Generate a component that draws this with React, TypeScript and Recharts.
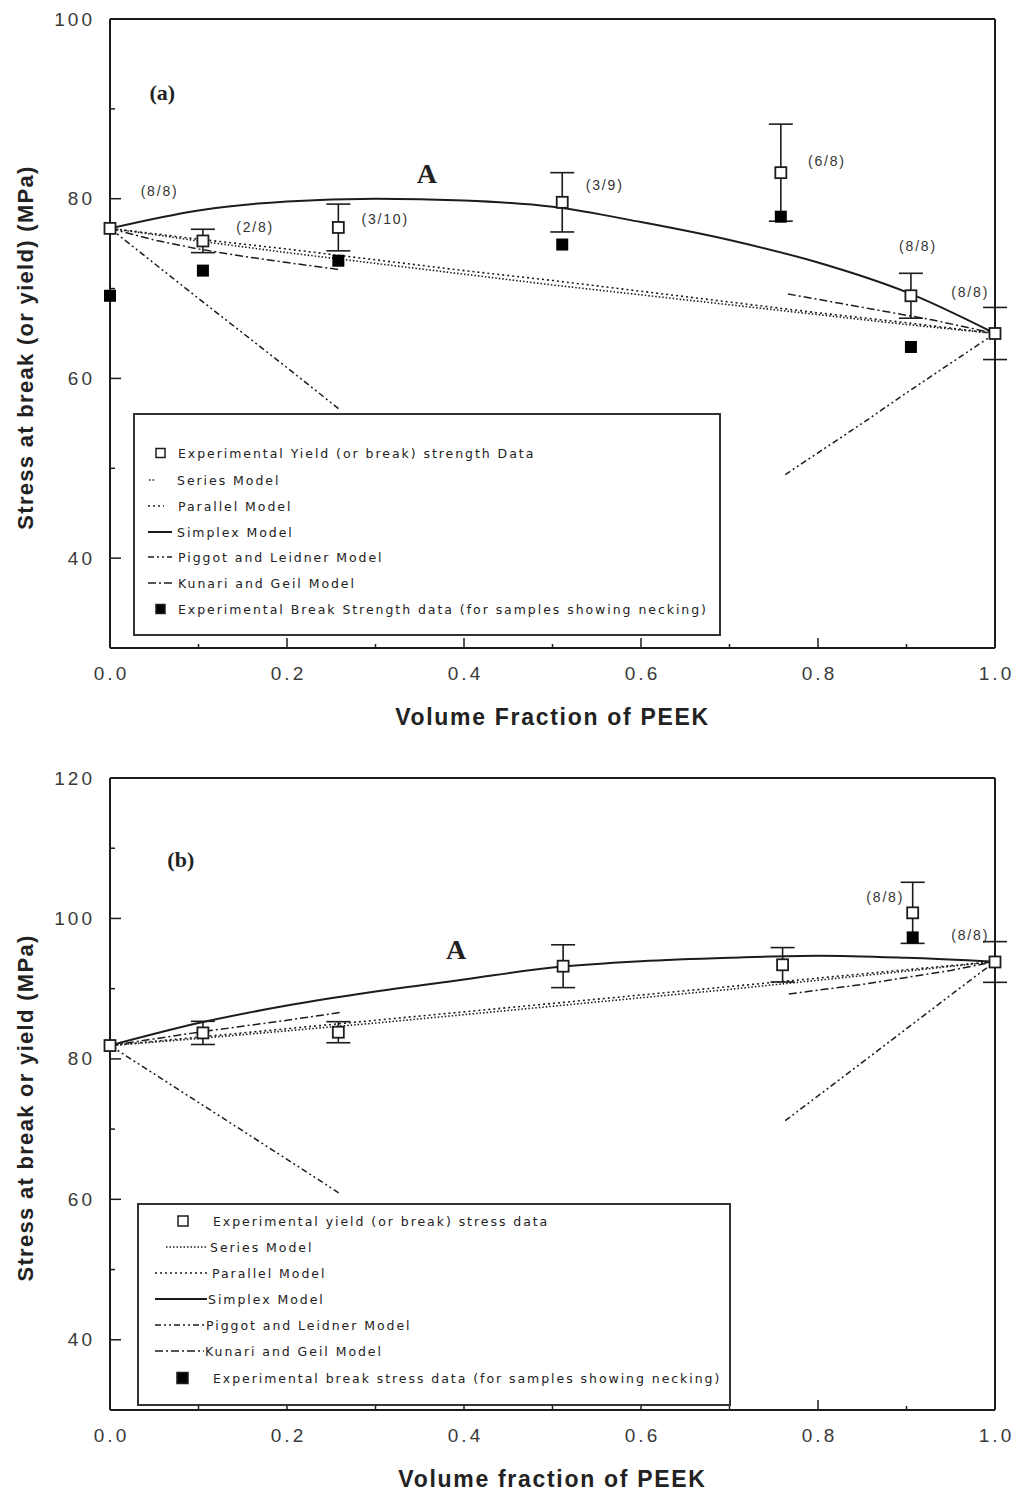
import React from 'react';
import { ComposedChart, Line, Scatter, ErrorBar, XAxis, YAxis, ReferenceDot } from 'recharts';

const INK = '#1c1c1c';
const SANS = '"Liberation Sans", Arial, sans-serif';
const SERIF = '"Liberation Serif", "Times New Roman", serif';
const LEGEND_FONT = '"DejaVu Sans", sans-serif';

type Pt = { x: number; y: number | null };

// x grid used for the model curves
const fractions = [0, 0.1, 0.2, 0.3, 0.4, 0.5, 0.6, 0.7, 0.8, 0.9, 1.0];
const xTicks = [0, 0.1, 0.2, 0.3, 0.4, 0.5, 0.6, 0.7, 0.8, 0.9, 1.0];

// ---- panel (a): stress at break (or yield)
const seriesA = [76.7, 75.3, 74.0, 72.8, 71.6, 70.4, 69.3, 68.2, 67.1, 66.0, 65.0];
const parallelA = [76.7, 75.5, 74.4, 73.2, 72.0, 70.9, 69.7, 68.5, 67.3, 66.2, 65.0];
const simplexA = [76.7, 78.7, 79.7, 80.0, 79.8, 79.1, 77.4, 75.4, 72.9, 69.6, 65.0];
const piggotAx1 = [0, 0.1, 0.2, 0.26];
const piggotAy1 = [76.7, 68.9, 61.2, 56.5];
const piggotAx2 = [0.763, 0.85, 0.9, 0.95, 1.0];
const piggotAy2 = [49.3, 55.0, 58.4, 61.7, 65.0];
const kunoriAx1 = [0, 0.05, 0.1, 0.15, 0.2, 0.26];
const kunoriAy1 = [76.7, 75.4, 74.4, 73.6, 72.9, 72.1];
const kunoriAx2 = [0.766, 0.8, 0.862, 0.93, 1.0];
const kunoriAy2 = [69.4, 68.8, 67.7, 66.5, 65.0];

const yieldAx = [0, 0.105, 0.258, 0.511, 0.758, 0.905, 1.0];
const yieldAy = [76.7, 75.3, 76.8, 79.6, 82.9, 69.2, 65.0];
const yieldAerr = [0, 1.3, 2.6, 3.3, 5.4, 2.5, 2.9];
const breakAx = [0, 0.105, 0.258, 0.511, 0.758, 0.905];
const breakAy = [69.2, 72.0, 73.1, 74.9, 78.0, 63.5];

const notesA = [
  { x: 0.056, y: 80.9, text: '(8/8)' },
  { x: 0.164, y: 76.8, text: '(2/8)' },
  { x: 0.311, y: 77.7, text: '(3/10)' },
  { x: 0.559, y: 81.5, text: '(3/9)' },
  { x: 0.81, y: 84.2, text: '(6/8)' },
  { x: 0.913, y: 74.7, text: '(8/8)' },
  { x: 0.972, y: 69.6, text: '(8/8)' },
];

// ---- panel (b): stress at break or yield
const seriesB = [81.9, 82.9, 84.0, 85.1, 86.3, 87.5, 88.7, 89.9, 91.2, 92.5, 93.85];
const parallelB = [81.9, 83.1, 84.3, 85.5, 86.7, 87.9, 89.1, 90.3, 91.5, 92.7, 93.85];
const simplexB = [81.9, 85.1, 87.6, 89.6, 91.3, 93.0, 93.9, 94.4, 94.7, 94.4, 93.85];
const piggotBx1 = [0, 0.1, 0.2, 0.26];
const piggotBy1 = [81.9, 73.8, 65.7, 60.8];
const piggotBx2 = [0.763, 0.85, 0.9, 0.95, 1.0];
const piggotBy2 = [71.2, 79.5, 84.3, 89.1, 93.85];
const kunoriBx1 = [0, 0.1, 0.2, 0.26];
const kunoriBy1 = [81.9, 83.8, 85.5, 86.6];
const kunoriBx2 = [0.767, 0.85, 0.9, 0.95, 1.0];
const kunoriBy2 = [89.25, 90.6, 91.6, 92.6, 93.85];

const yieldBx = [0, 0.105, 0.258, 0.512, 0.76, 0.907, 1.0];
const yieldBy = [81.9, 83.7, 83.8, 93.2, 93.4, 100.8, 93.8];
const yieldBerr = [0, 1.65, 1.5, 3.05, 2.45, 4.35, 2.9];
const breakBx = [0.907];
const breakBy = [97.3];

const notesB = [
  { x: 0.876, y: 103.0, text: '(8/8)' },
  { x: 0.972, y: 97.7, text: '(8/8)' },
];

const legendTextA = [
  'Experimental Yield (or break) strength Data',
  'Series Model',
  'Parallel Model',
  'Simplex Model',
  'Piggot and Leidner Model',
  'Kunari and Geil Model',
  'Experimental Break Strength data (for samples showing necking)',
];
const legendTextB = [
  'Experimental yield (or break) stress data',
  'Series Model',
  'Parallel Model',
  'Simplex Model',
  'Piggot and Leidner Model',
  'Kunari and Geil Model',
  'Experimental break stress data (for samples showing necking)',
];

const zip = (xs: number[], ys: number[]): Pt[] => xs.map((x, i) => ({ x, y: ys[i] }));
const join = (a: Pt[], b: Pt[]): Pt[] => [
  ...a,
  { x: (a[a.length - 1].x + b[0].x) / 2, y: null },
  ...b,
];
const withErr = (xs: number[], ys: number[], es: number[]) =>
  xs.map((x, i) => ({ x, y: ys[i], err: es[i] }));

const DASH = {
  series: '1.5 2',
  parallel: '2 3',
  simplex: undefined,
  piggot: '6 3 2 3 2 3',
  kunori: '8 3 2 3',
};

const axisLine = { stroke: INK, strokeWidth: 2 };

const YTick = (props: any) => {
  const { x, y, payload } = props;
  const major = payload.value % 20 === 0;
  return (
    <g>
      <line x1={x} y1={y} x2={x + (major ? 11 : 5)} y2={y} stroke={INK} strokeWidth={1.5} />
      {major && (
        <text x={x - 15} y={y} textAnchor="end" dominantBaseline="central"
          fontFamily={SANS} fontSize={19} letterSpacing={3} fill="#3a3a3a">
          {payload.value}
        </text>
      )}
    </g>
  );
};

const XTick = (props: any) => {
  const { x, y, payload } = props;
  const major = Math.round(payload.value * 10) % 2 === 0;
  return (
    <g>
      <line x1={x} y1={y} x2={x} y2={y - (major ? 10 : 4)} stroke={INK} strokeWidth={1.5} />
      {major && (
        <text x={x + 1.5} y={y + 25} textAnchor="middle" dominantBaseline="central"
          fontFamily={SANS} fontSize={19} letterSpacing={3} fill="#3a3a3a">
          {payload.value.toFixed(1)}
        </text>
      )}
    </g>
  );
};

const TopTick = (props: any) => {
  const { x, y, payload } = props;
  const major = Math.round(payload.value * 10) % 2 === 0;
  return <line x1={x} y1={y} x2={x} y2={y + (major ? 8 : 4)} stroke={INK} strokeWidth={1.5} />;
};

const OpenSquare = (props: any) => (
  <rect x={props.cx - 5.5} y={props.cy - 5.5} width={11} height={11}
    fill="#fff" stroke={INK} strokeWidth={1.8} />
);
const FilledSquare = (props: any) => (
  <rect x={props.cx - 6} y={props.cy - 6} width={12} height={12} fill="#000" />
);

// rotated axis title, a bit below the plot centre like the original
const yTitleContent = (text: string) => (props: any) => {
  const vb = props.viewBox;
  const cx = 25;
  const cy = vb.y + vb.height / 2 + 14;
  return (
    <text x={cx} y={cy} transform={`rotate(-90 ${cx} ${cy})`} textAnchor="middle"
      dominantBaseline="central" fontFamily={SANS} fontSize={22} fontWeight={700}
      letterSpacing={1.3} fill="#222">
      {text}
    </text>
  );
};

type Sym = { kind: 'open' | 'filled' | 'line'; x0: number; x1: number; dash?: string; w?: number };

const LegendSymbol = ({ s, cy }: { s: Sym; cy: number }) => {
  if (s.kind === 'line') {
    return (
      <line x1={s.x0} x2={s.x1} y1={cy} y2={cy} stroke={INK}
        strokeWidth={s.w ?? 1.5} strokeDasharray={s.dash} />
    );
  }
  const size = s.x1 - s.x0;
  return (
    <rect x={s.x0} y={cy - size / 2} width={size} height={size}
      fill={s.kind === 'open' ? '#fff' : '#000'} stroke={INK} strokeWidth={1.5} />
  );
};

type LegendProps = {
  left: number; top: number; width: number; height: number;
  rows: number[]; texts: string[]; textX: number[]; syms: Sym[];
};

const ModelLegend = ({ left, top, width, height, rows, texts, textX, syms }: LegendProps) => (
  <div style={{
    position: 'absolute', left, top, width, height, boxSizing: 'border-box',
    border: '2px solid #333', background: '#fff',
  }}>
    <svg width={width} height={height} style={{ position: 'absolute', left: -2, top: -2 }}>
      {syms.map((s, i) => (
        <LegendSymbol key={i} s={{ ...s, x0: s.x0 - left, x1: s.x1 - left }} cy={rows[i] - top} />
      ))}
      {texts.map((t, i) => (
        <text key={t} x={textX[i] - left} y={rows[i] - top} dominantBaseline="central"
          fontFamily={LEGEND_FONT} fontSize={12.5} letterSpacing={1.95} fill="#222">
          {t}
        </text>
      ))}
    </svg>
  </div>
);

type Note = { x: number; y: number; text: string };
type PanelProps = {
  top: number; height: number; bottom: number;
  yDomain: [number, number]; yTicks: number[];
  series: Pt[]; parallel: Pt[]; simplex: Pt[]; piggot: Pt[]; kunori: Pt[];
  yields: { x: number; y: number; err: number }[]; breaks: Pt[];
  notes: Note[]; big: Note[];
  xTitle: string; yTitle: string;
  legend: LegendProps;
};

const Panel = (p: PanelProps) => (
  <div style={{ position: 'absolute', left: 0, top: p.top, width: 1014, height: p.height }}>
    <ComposedChart width={1014} height={p.height} margin={{ top: 18, right: 18, left: 0, bottom: p.bottom }}>
      <XAxis dataKey="x" type="number" domain={[0, 1]} ticks={xTicks} interval={0}
        height={80} tickLine={false} tickSize={0} tickMargin={0} axisLine={axisLine}
        tick={<XTick />}
        label={{ value: p.xTitle, position: 'insideBottom', offset: 3, fontFamily: SANS,
          fontSize: 23, fontWeight: 700, fill: '#222', letterSpacing: 1.7 }} />
      <XAxis xAxisId="top" orientation="top" type="number" domain={[0, 1]} ticks={xTicks}
        interval={0} height={1} tickLine={false} tickSize={0} tickMargin={0}
        axisLine={axisLine} tick={<TopTick />} />
      <YAxis type="number" domain={p.yDomain} ticks={p.yTicks} interval={0} width={110}
        tickLine={false} tickSize={0} tickMargin={0} axisLine={axisLine} tick={<YTick />}
        label={{ value: p.yTitle, content: yTitleContent(p.yTitle) }} />
      <YAxis yAxisId="right" orientation="right" type="number" domain={p.yDomain} width={1}
        ticks={p.yTicks} tick={false} tickLine={false} axisLine={axisLine} />

      <Line data={p.series} dataKey="y" type="linear" stroke={INK} strokeWidth={1.6}
        strokeDasharray={DASH.series} dot={false} isAnimationActive={false} />
      <Line data={p.parallel} dataKey="y" type="linear" stroke={INK} strokeWidth={1.6}
        strokeDasharray={DASH.parallel} dot={false} isAnimationActive={false} />
      <Line data={p.simplex} dataKey="y" type="monotone" stroke={INK} strokeWidth={2}
        dot={false} isAnimationActive={false} />
      <Line data={p.piggot} dataKey="y" type="linear" stroke={INK} strokeWidth={1.5}
        strokeDasharray={DASH.piggot} dot={false} connectNulls={false} isAnimationActive={false} />
      <Line data={p.kunori} dataKey="y" type="linear" stroke={INK} strokeWidth={1.5}
        strokeDasharray={DASH.kunori} dot={false} connectNulls={false} isAnimationActive={false} />

      <Scatter data={p.yields} dataKey="y" shape={<OpenSquare />} isAnimationActive={false}>
        <ErrorBar dataKey="err" direction="y" width={12} stroke={INK} strokeWidth={1.6} />
      </Scatter>
      <Scatter data={p.breaks} dataKey="y" shape={<FilledSquare />} isAnimationActive={false} />

      {p.notes.map((n, i) => (
        <ReferenceDot key={'n' + i} x={n.x} y={n.y} r={0} stroke="none"
          label={{ value: n.text, position: 'center', fontFamily: SANS, fontSize: 14,
            letterSpacing: 1.8, fill: '#333' }} />
      ))}
      {p.big.map((n, i) => (
        <ReferenceDot key={'b' + i} x={n.x} y={n.y} r={0} stroke="none"
          label={{ value: n.text, position: 'center', fontFamily: SERIF,
            fontSize: n.text === 'A' ? 28 : 22, fontWeight: 700, fill: '#222' }} />
      ))}
    </ComposedChart>
    <ModelLegend {...p.legend} top={p.legend.top - p.top} rows={p.legend.rows.map(r => r - p.top)} />
  </div>
);

const symsA: Sym[] = [
  { kind: 'open', x0: 156, x1: 165 },
  { kind: 'line', x0: 149, x1: 155, dash: DASH.series },
  { kind: 'line', x0: 148, x1: 164, dash: DASH.parallel },
  { kind: 'line', x0: 148, x1: 172, w: 2 },
  { kind: 'line', x0: 148, x1: 172, dash: DASH.piggot },
  { kind: 'line', x0: 148, x1: 172, dash: DASH.kunori },
  { kind: 'filled', x0: 156, x1: 165 },
];
const symsB: Sym[] = [
  { kind: 'open', x0: 178, x1: 188 },
  { kind: 'line', x0: 166, x1: 208, dash: DASH.series },
  { kind: 'line', x0: 155, x1: 209, dash: DASH.parallel },
  { kind: 'line', x0: 155, x1: 207, w: 2 },
  { kind: 'line', x0: 155, x1: 205, dash: DASH.piggot },
  { kind: 'line', x0: 155, x1: 204, dash: DASH.kunori },
  { kind: 'filled', x0: 177, x1: 188 },
];

export default function App() {
  return (
    <div style={{ position: 'absolute', left: 0, top: 0, width: 1014, height: 1494, background: '#fff' }}>
      <Panel
        top={0} height={740} bottom={12}
        yDomain={[30, 100]} yTicks={[40, 50, 60, 70, 80, 90, 100]}
        series={zip(fractions, seriesA)} parallel={zip(fractions, parallelA)}
        simplex={zip(fractions, simplexA)}
        piggot={join(zip(piggotAx1, piggotAy1), zip(piggotAx2, piggotAy2))}
        kunori={join(zip(kunoriAx1, kunoriAy1), zip(kunoriAx2, kunoriAy2))}
        yields={withErr(yieldAx, yieldAy, yieldAerr)} breaks={zip(breakAx, breakAy)}
        notes={notesA}
        big={[{ x: 0.358, y: 82.9, text: 'A' }, { x: 0.059, y: 91.8, text: '(a)' }]}
        xTitle="Volume Fraction of PEEK" yTitle="Stress at break (or yield) (MPa)"
        legend={{
          left: 133, top: 413, width: 588, height: 223,
          rows: [453, 480, 506, 532, 557, 583, 609],
          texts: legendTextA, textX: [178, 177, 178, 177, 178, 178, 178], syms: symsA,
        }}
      />
      <Panel
        top={759} height={735} bottom={4}
        yDomain={[30, 120]} yTicks={[40, 50, 60, 70, 80, 90, 100, 110, 120]}
        series={zip(fractions, seriesB)} parallel={zip(fractions, parallelB)}
        simplex={zip(fractions, simplexB)}
        piggot={join(zip(piggotBx1, piggotBy1), zip(piggotBx2, piggotBy2))}
        kunori={join(zip(kunoriBx1, kunoriBy1), zip(kunoriBx2, kunoriBy2))}
        yields={withErr(yieldBx, yieldBy, yieldBerr)} breaks={zip(breakBx, breakBy)}
        notes={notesB}
        big={[{ x: 0.391, y: 95.6, text: 'A' }, { x: 0.08, y: 108.4, text: '(b)' }]}
        xTitle="Volume fraction of PEEK" yTitle="Stress at break or yield (MPa)"
        legend={{
          left: 137, top: 1203, width: 594, height: 203,
          rows: [1221, 1247, 1273, 1299, 1325, 1351, 1378],
          texts: legendTextB, textX: [213, 210, 212, 208, 206, 205, 213], syms: symsB,
        }}
      />
    </div>
  );
}
